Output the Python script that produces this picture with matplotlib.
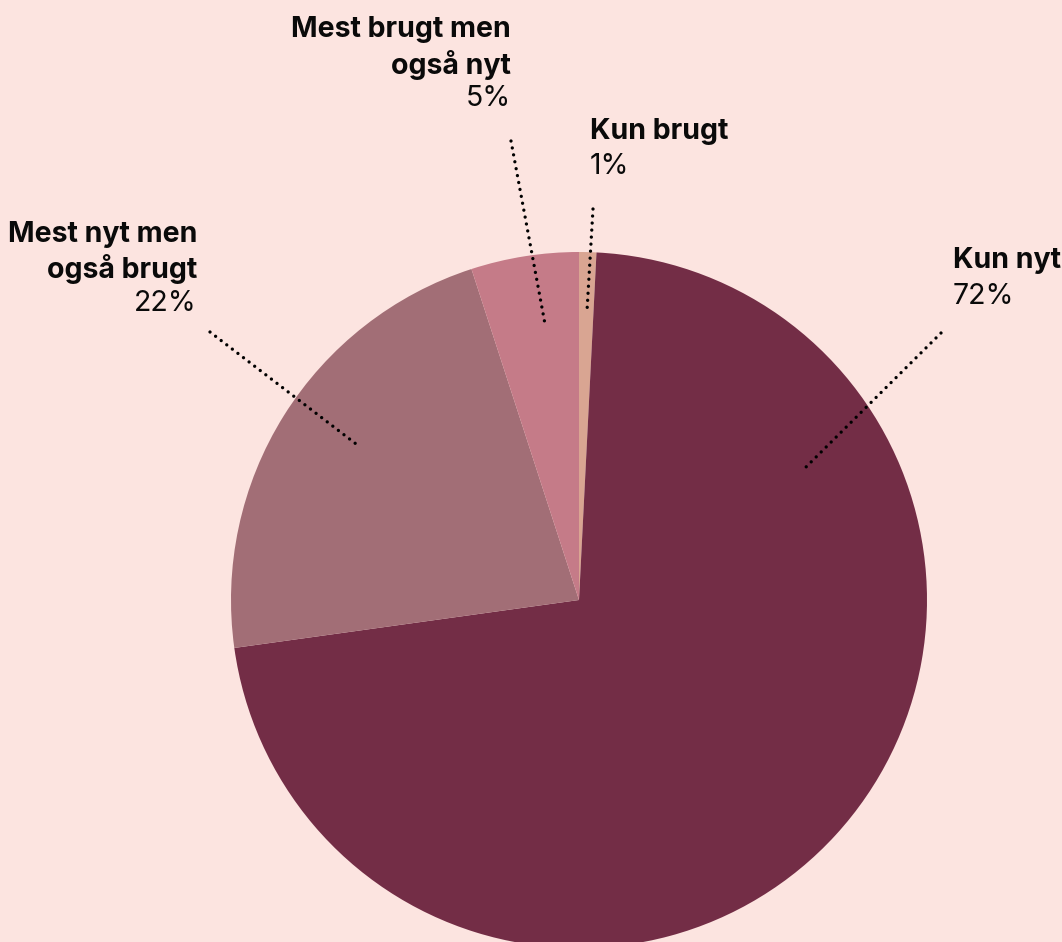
import matplotlib
matplotlib.use("Agg")
import matplotlib.pyplot as plt

# ---- data ----
categories = ["Kun brugt", "Kun nyt", "Mest nyt men\nogså brugt", "Mest brugt men\nogså nyt"]
values = [0.8, 72.0, 22.2, 5.0]
pct_labels = ["1%", "72%", "22%", "5%"]
colors = ["#D9A592", "#732D46", "#A26E76", "#C57B88"]

BG = "#FCE4E0"
W, H = 1062, 942
fig = plt.figure(figsize=(W / 100, H / 100), dpi=100, facecolor=BG)
ax = fig.add_axes([0, 0, 1, 1])
ax.set_facecolor(BG)

cx, cy, R = 579, H - 600, 348
ax.pie(values, colors=colors, startangle=90, counterclock=False,
       center=(cx, cy), radius=R, frame=True,
       wedgeprops=dict(linewidth=0))
ax.set_xlim(0, W)
ax.set_ylim(0, H)
ax.set_aspect("equal")
ax.axis("off")

# label layout (pixel positions from top-left): text anchor, alignment, leader line (outer, inner)
layout = [
    dict(tx=590, ty=118, ha="left", line=((593, 209), (587, 311))),
    dict(tx=953, ty=247, ha="left", line=((941, 333), (802, 471))),
    dict(tx=197, ty=221, ha="right", line=((210, 332), (360, 447))),
    dict(tx=511, ty=16, ha="right", line=((511, 141), (545, 324))),
]

FS = 20.5
LS = 33.5  # line spacing in px
for cat, pct, lay in zip(categories, pct_labels, layout):
    lines = cat.split("\n")
    top = lay["ty"]
    for i, ln in enumerate(lines):
        ax.text(lay["tx"], H - (top + i * LS), ln, ha=lay["ha"], va="top",
                fontsize=FS, fontweight="bold", family=["Inter", "DejaVu Sans"],
                color="#0A0A0A")
    ax.text(lay["tx"], H - (top + len(lines) * LS + 2), pct, ha=lay["ha"], va="top",
            fontsize=FS, fontweight="normal", family=["Inter", "DejaVu Sans"],
            color="#0A0A0A")
    (x0, y0), (x1, y1) = lay["line"]
    ax.plot([x0, x1], [H - y0, H - y1], color="#000000", lw=2.4,
            linestyle=(0, (0.01, 2.1)), dash_capstyle="round", zorder=5)

fig.savefig("out.png", dpi=100, facecolor=BG)
